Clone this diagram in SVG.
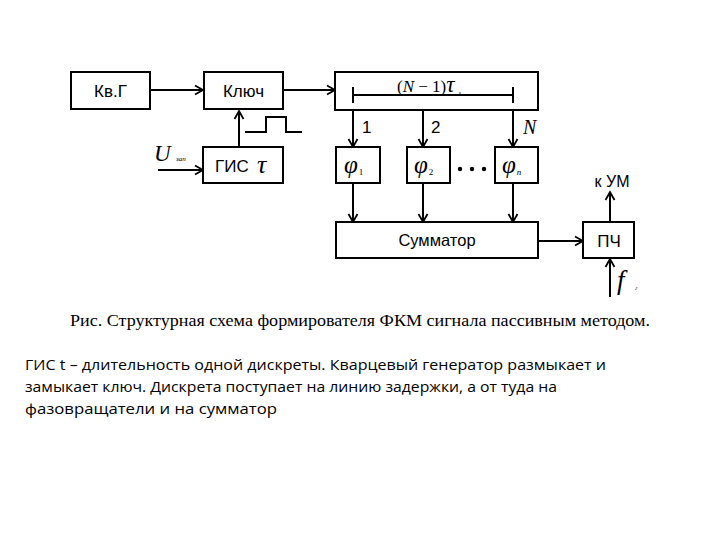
<svg xmlns="http://www.w3.org/2000/svg" width="720" height="540" viewBox="0 0 720 540">
<style>
.box{fill:#fff;stroke:#000;stroke-width:2}
.ln{fill:none;stroke:#000;stroke-width:2}
.sans{font-family:"Liberation Sans",Arial,sans-serif;fill:#000}
.ser{font-family:"Liberation Serif","Times New Roman",serif;fill:#000}
.it{font-style:italic}
.body{font-family:"Open Sans","Liberation Sans",sans-serif;font-size:15px;fill:#000}
</style>
<defs>
<marker id="ar" markerUnits="userSpaceOnUse" markerWidth="12" markerHeight="12" refX="10" refY="6" orient="auto">
<path d="M2,1.5 L10,6 L2,10.5" fill="none" stroke="#000" stroke-width="1.8"/>
</marker>
</defs>
<rect width="720" height="540" fill="#fff"/>
<g id="connectors" class="ln" marker-end="url(#ar)">
<path d="M151,90 H203"/>
<path d="M284,90 H335"/>
<path d="M239,147 V111"/>
<path d="M158,170 H203"/>
<path d="M353,110 V147"/>
<path d="M423,110 V147"/>
<path d="M513,110 V147"/>
<path d="M353,183 V222"/>
<path d="M423,183 V222"/>
<path d="M513,183 V222"/>
<path d="M538,241 H583"/>
<path d="M610,222 V192"/>
<path d="M610,297 V259"/>
</g>
<g id="pulse">
<polyline class="ln" points="245,132 266,132 266,117 286,117 286,132 302,132"/>
</g>
<g id="kvg">
<rect class="box" x="71" y="72" width="79" height="37"/>
<text class="sans" x="110.5" y="97" font-size="17" text-anchor="middle">Кв.Г</text>
</g>
<g id="kluch">
<rect class="box" x="204" y="72" width="79" height="37"/>
<text class="sans" x="243.5" y="97" font-size="17" text-anchor="middle">Ключ</text>
</g>
<g id="delay">
<rect class="box" x="335" y="72" width="203" height="38"/>
<path class="ln" d="M353,95 H513 M353,87 V103 M513,87 V103" stroke-width="1.8"/>
<text class="ser" x="397" y="92" font-size="17">(<tspan class="it">N</tspan> − 1)<tspan class="it" font-size="23">τ</tspan><tspan font-size="6" dx="4" dy="3">з</tspan></text>
</g>
<g id="gis">
<rect class="box" x="203" y="147" width="80" height="36"/>
<text class="sans" x="215" y="172" font-size="17">ГИС</text>
<text class="ser it" x="257" y="173" font-size="26">τ</text>
</g>
<g id="uzap">
<text class="ser it" x="154" y="161" font-size="23">U</text>
<text class="ser it" x="176" y="161" font-size="7">зап</text>
</g>
<g id="labels">
<text class="sans" x="362" y="133" font-size="17">1</text>
<text class="sans" x="431" y="133" font-size="17">2</text>
<text class="ser it" x="523" y="134" font-size="20">N</text>
</g>
<g id="phi1">
<rect class="box" x="336" y="147" width="44" height="36"/>
<text class="ser it" x="344" y="173" font-size="25">φ<tspan font-style="normal" font-size="9" dx="1" dy="2">1</tspan></text>
</g>
<g id="phi2">
<rect class="box" x="407" y="147" width="43" height="36"/>
<text class="ser it" x="414" y="173" font-size="25">φ<tspan font-style="normal" font-size="9" dx="1" dy="2">2</tspan></text>
</g>
<g id="dots">
<circle cx="460" cy="169" r="2.2"/><circle cx="472" cy="169" r="2.2"/><circle cx="484" cy="169" r="2.2"/>
</g>
<g id="phin">
<rect class="box" x="495" y="147" width="43" height="36"/>
<text class="ser it" x="502" y="173" font-size="25">φ<tspan font-size="9" dx="1" dy="2">n</tspan></text>
</g>
<g id="summator">
<rect class="box" x="336" y="222" width="202" height="36"/>
<text class="sans" x="437" y="246" font-size="16.5" text-anchor="middle">Сумматор</text>
</g>
<g id="pch">
<rect class="box" x="583" y="222" width="51" height="36"/>
<text class="sans" x="609" y="247" font-size="17" text-anchor="middle">ПЧ</text>
</g>
<text class="sans" x="612" y="187" font-size="16" text-anchor="middle">к УМ</text>
<text class="ser it" x="617" y="289" font-size="27">f</text>
<text class="ser it" x="635" y="290" font-size="6">г</text>
<text class="ser" x="70" y="326" font-size="16" textLength="580" lengthAdjust="spacingAndGlyphs">Рис. Структурная схема формирователя ФКМ сигнала пассивным методом.</text>
<text class="body" x="25" y="370" textLength="581" lengthAdjust="spacingAndGlyphs">ГИС t – длительность одной дискреты. Кварцевый генератор размыкает и</text>
<text class="body" x="25" y="392" textLength="532" lengthAdjust="spacingAndGlyphs">замыкает ключ. Дискрета поступает на линию задержки, а от туда на</text>
<text class="body" x="25" y="414" textLength="252" lengthAdjust="spacingAndGlyphs">фазовращатели и на сумматор</text>
</svg>
